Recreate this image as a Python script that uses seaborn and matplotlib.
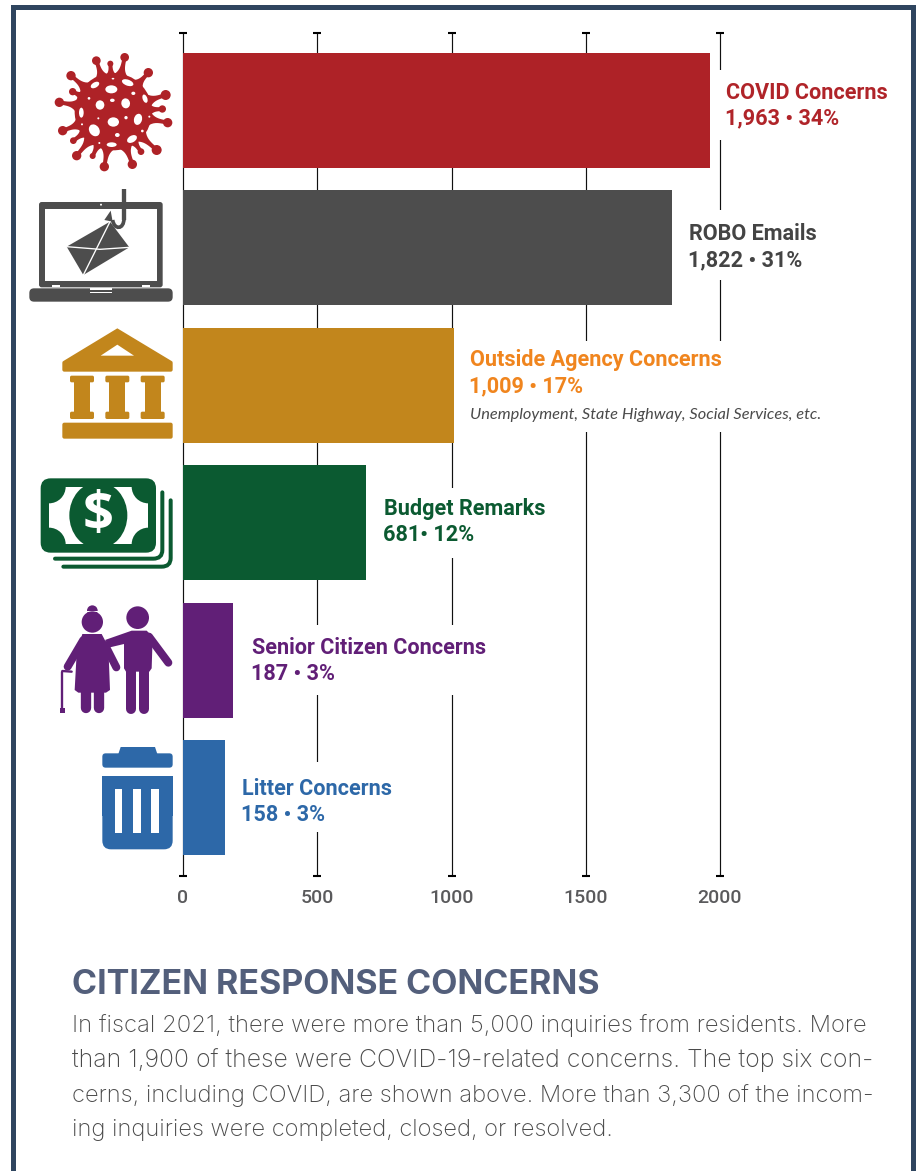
import matplotlib
matplotlib.use("Agg")
import matplotlib.pyplot as plt
import numpy as np
import pandas as pd
import seaborn as sns
from matplotlib.patches import Circle, Ellipse, FancyBboxPatch, Polygon, Rectangle, PathPatch
from matplotlib.path import Path
from matplotlib.transforms import Affine2D

# ---- data -------------------------------------------------------------
concerns = ["COVID Concerns", "ROBO Emails", "Outside Agency Concerns",
            "Budget Remarks", "Senior Citizen Concerns", "Litter Concerns"]
counts = [1963, 1822, 1009, 681, 187, 158]
value_labels = ["1,963 • 34%", "1,822 • 31%", "1,009 • 17%",
                "681• 12%", "187 • 3%", "158 • 3%"]
bar_colors = ["#ae2227", "#4d4d4d", "#c2861c", "#0b5a31", "#611f77", "#2d68a8"]
text_colors = ["#b02429", "#444444", "#f0851e", "#0b5a31", "#611f77", "#2d68a8"]
x_ticks = [0, 500, 1000, 1500, 2000]
outside_note = "Unemployment, State Highway, Social Services, etc."
heading = "CITIZEN RESPONSE CONCERNS"
body_lines = [
    "In fiscal 2021, there were more than 5,000 inquiries from residents. More",
    "than 1,900 of these were COVID-19-related concerns. The top six con-",
    "cerns, including COVID, are shown above. More than 3,300 of the incom-",
    "ing inquiries were completed, closed, or resolved.",
]

# ---- layout (pixels) ---------------------------------------------------
W, H = 917, 1171
label_dx = [16, 17, 16, 18, 19, 17]
name_dy = [-17, -14, -25, -14, -12, -9]
value_dy = [8, 12, 1, 12, 14, 17]
# white panels behind the labels that interrupt the gridlines: x0, x1, y0, y1
label_panels = [(712, 898, 70, 140), (672.3, 825, 210, 280), (456, 825, 341, 432),
                (367, 560, 488, 558), (235, 495, 625, 695), (227, 400, 762, 832)]
body_right = [867, 874, 874, 613]
body_base = [1032, 1067, 1102, 1136]

sns.set_theme(style="white")
plt.rcParams["font.family"] = ["Roboto", "DejaVu Sans"]

fig = plt.figure(figsize=(W / 100, H / 100), dpi=100, facecolor="white")
ax = fig.add_axes([183 / W, 1 - 876 / H, (720 - 183) / W, (876 - 33) / H])

df = pd.DataFrame({"concern": concerns, "count": counts})
sns.barplot(data=df, y="concern", x="count", hue="concern", palette=bar_colors,
            hue_order=concerns, order=concerns, width=0.836, saturation=1,
            dodge=False, legend=False, linewidth=0, ax=ax)

ax.set_xlim(0, 2000)
ax.set_ylim(5.571, -0.564)
ax.set_xlabel("")
ax.set_ylabel("")
ax.set_yticks([])
ax.set_xticks(x_ticks)
ax.set_xticklabels([str(t) for t in x_ticks], family="Roboto", fontsize=14,
                   color="#5a5a5c", weight="medium")
ax.tick_params(axis="x", length=0, pad=9.5)
ax.set_axisbelow(True)
ax.grid(axis="x", color="#111111", linewidth=0.85)
ax.grid(axis="y", visible=False)
for line in ax.get_xgridlines():
    line.set_clip_on(False)
for spine in ax.spines.values():
    spine.set_visible(False)
ax.patch.set_alpha(0)

# short caps on both ends of every gridline
for end in ax.get_ylim():
    ax.plot(x_ticks, [end] * len(x_ticks), ls="", marker="_", ms=5.8, mew=1.5,
            color="black", clip_on=False, zorder=2)

px = Affine2D().scale(1, -1).translate(0, H)
for x0, x1, y0, y1 in label_panels:
    ax.add_patch(Rectangle((x0, y0), x1 - x0, y1 - y0, transform=px, facecolor="white",
                           edgecolor="none", zorder=1.5, clip_on=False))

# ---- labels at the end of each bar --------------------------------------
for i, (name, val) in enumerate(zip(concerns, value_labels)):
    common = dict(xy=(counts[i], i), xycoords="data", textcoords="offset pixels",
                  color=text_colors[i], weight="bold", fontsize=15.6, va="center",
                  ha="left", zorder=3, annotation_clip=False)
    ax.annotate(name, xytext=(label_dx[i], -name_dy[i]), **common)
    ax.annotate(val, xytext=(label_dx[i] - 1, -value_dy[i]), **common)
ax.annotate(outside_note, xy=(counts[2], 2), xytext=(16, -30), textcoords="offset pixels",
            family="Lato", fontsize=11.8, style="italic", color="#4a4a4a",
            va="center", ha="left", zorder=3)

# ---- overlay in units of a third of a pixel, used for icons and frame ---
ov = fig.add_axes([0, 0, 1, 1], zorder=5)
ov.set_xlim(0, W * 3)
ov.set_ylim(H * 3, 0)
ov.axis("off")
LW = 0.72 / 3  # line width per overlay unit


def rrect(x0, y0, x1, y1, r, color, z=2):
    ov.add_patch(FancyBboxPatch((x0 + r, y0 + r), x1 - x0 - 2 * r, y1 - y0 - 2 * r,
                                boxstyle=f"round,pad={r},rounding_size={r}",
                                facecolor=color, edgecolor="none", zorder=z))


def stroke(xs, ys, width, color, z=2, cap="round"):
    ov.plot(xs, ys, color=color, lw=width * LW, solid_capstyle=cap,
            solid_joinstyle="round", zorder=z)


def poly(pts, color, z=2):
    ov.add_patch(Polygon(pts, closed=True, facecolor=color, edgecolor="none", zorder=z))


# frame, open at the bottom
frame = "#2f455f"
ov.add_patch(Rectangle((32, 15), 15, H * 3, facecolor=frame, edgecolor="none"))
ov.add_patch(Rectangle((32, 15), 2748 - 32, 14, facecolor=frame, edgecolor="none"))
ov.add_patch(Rectangle((2732, 15), 16, H * 3, facecolor=frame, edgecolor="none"))

# virus: round body, spikes flaring into it, each ending in a small ball
c = bar_colors[0]
cx, cy = 340, 335
ov.add_patch(Circle((cx, cy), 116, facecolor=c, edgecolor="none"))
bulbs = [(374, 172, 13), (289, 182, 13), (331, 191, 9), (213, 227, 14), (218, 275, 11),
         (445, 218, 14), (497, 285, 15), (487, 327, 11), (503, 368, 14), (178, 307, 14),
         (188, 392, 14), (220, 422, 10), (470, 450, 15), (423, 455, 10), (397, 493, 14),
         (313, 500, 14), (278, 468, 9), (230, 467, 14)]
for bx, by, br in bulbs:
    ov.add_patch(Circle((bx, by), br, facecolor=c, edgecolor="none"))
    tip = np.array([bx, by], float)
    d = tip - (cx, cy)
    d /= np.hypot(*d)
    n = np.array([-d[1], d[0]])
    base = np.array([cx, cy]) + d * 100
    s = np.linspace(0, 1, 14)
    half = 6 + 30 * (1 - s) ** 4
    mid = base[None, :] + (tip - base)[None, :] * s[:, None]
    poly(np.vstack([mid + n * half[:, None], (mid - n * half[:, None])[::-1]]), c)
holes = [(334, 268, 36, 24, 0), (383, 248, 36, 18, 20), (285, 255, 28, 16, -30), (339, 236, 8, 5, 0),
         (400, 280, 12, 10, 0), (435, 296, 14, 26, -20), (267, 295, 8, 8, 0), (337, 301, 14, 10, 0),
         (300, 315, 26, 28, 0), (377, 310, 26, 30, -10), (244, 338, 14, 30, 0), (295, 355, 6, 6, 0),
         (378, 353, 10, 10, 0), (340, 366, 34, 28, 0), (414, 358, 24, 34, 15), (448, 350, 6, 6, 0),
         (246, 373, 6, 6, 0), (283, 391, 30, 38, -35), (352, 405, 14, 12, 0), (427, 393, 8, 8, 0),
         (396, 417, 32, 20, -30), (335, 434, 30, 14, 0), (298, 429, 6, 6, 0)]
for hx, hy, hw, hh, rot in holes:
    ov.add_patch(Ellipse((hx, hy), hw, hh, angle=rot, facecolor="white", edgecolor="none", zorder=3))

# laptop with a hooked envelope
c = bar_colors[1]
rrect(117, 606, 488, 862, 8, c)
ov.add_patch(Rectangle((135, 626), 335, 217, facecolor="white", edgecolor="none", zorder=3))
ov.add_patch(Circle((303, 614), 3, facecolor="white", edgecolor="none", zorder=3))
rrect(88, 865, 518, 905, 14, c, z=3)
ov.add_patch(Rectangle((270, 865), 66, 5, facecolor="white", edgecolor="none", zorder=4))
ov.add_patch(Rectangle((270, 875), 66, 3, facecolor="white", edgecolor="none", zorder=4))
for x0 in (155, 426):
    ov.add_patch(Rectangle((x0, 855), 25, 7, facecolor="white", edgecolor="none", zorder=4))
poly([(200, 740), (330, 665), (388, 742), (250, 825)], c, z=4)
stroke([200, 300, 388], [740, 748, 742], 4, "white", z=5)
stroke([250, 335], [825, 655], 4, "white", z=5)
stroke([372, 372], [568, 660], 13, c, z=6, cap="butt")
ov.add_patch(PathPatch(Path([(372, 655), (372, 690), (342, 690), (338, 660)],
                            [Path.MOVETO, Path.CURVE4, Path.CURVE4, Path.CURVE4]),
                       facecolor="none", edgecolor=c, lw=11 * LW, zorder=6))
poly([(313, 660), (332, 632), (338, 665)], c, z=6)

# government building
c = bar_colors[2]
poly([(187, 1085), (352, 985), (518, 1085)], c)
rrect(187, 1083, 518, 1115, 6, c)
poly([(302, 1067), (352, 1034), (402, 1067)], "white", z=3)
for col in (246, 352, 458):
    rrect(col - 36, 1127, col + 36, 1147, 5, c)
    ov.add_patch(Rectangle((col - 24, 1145), 48, 92, facecolor=c, edgecolor="none"))
    rrect(col - 36, 1235, col + 36, 1257, 5, c)
rrect(187, 1268, 518, 1316, 6, c)

# stack of banknotes: scalloped white corners, oval medallion, two bills behind
c = bar_colors[3]
o = 1380
rrect(122, 55 + o, 468, 278 + o, 30, c)
note = Rectangle((147, 80 + o), 298, 173, facecolor="white", edgecolor="none", zorder=3)
ov.add_patch(note)
for qx in (147, 445):
    for qy in (80 + o, 253 + o):
        corner = Circle((qx, qy), 50, facecolor=c, edgecolor="none", zorder=4)
        ov.add_patch(corner)
        corner.set_clip_path(note)
medal = Ellipse((295, 166 + o), 174, 200, facecolor=c, edgecolor="none", zorder=4)
ov.add_patch(medal)
medal.set_clip_path(note)
ov.text(295, 168 + o, "$", color="white", family="Open Sans", weight="bold", fontsize=39,
        ha="center", va="center", zorder=5)
for dx, dy in ((0, 0), (25, 24)):
    ov.add_patch(PathPatch(
        Path([(165 + dx, 296 + dy), (460 + dx, 296 + dy), (487 + dx, 296 + dy),
              (487 + dx, 270 + dy), (487 + dx, 97 + dy)],
             [Path.MOVETO, Path.LINETO, Path.CURVE3, Path.CURVE3, Path.LINETO]).transformed(
            Affine2D().translate(0, o)),
        facecolor="none", edgecolor=c, lw=12 * LW, capstyle="round", zorder=2))

# elderly couple
c = bar_colors[4]
ov.add_patch(Circle((277, 452 + o), 16, facecolor=c, edgecolor="none"))
ov.add_patch(Rectangle((255, 452 + o), 44, 5, facecolor="white", edgecolor="none", zorder=3))
ov.add_patch(Circle((277, 486 + o), 32, facecolor=c, edgecolor="none", zorder=4))
poly([(247, 522 + o), (305, 522 + o), (325, 560 + o), (330, 690 + o), (318, 698 + o),
      (235, 698 + o), (224, 690 + o), (230, 580 + o)], c)
stroke([250, 203], [540 + o, 620 + o], 24, c)
stroke([315, 349], [555 + o, 622 + o], 24, c)
stroke([258, 258], [695 + o, 745 + o], 31, c)
stroke([297, 297], [695 + o, 745 + o], 31, c)
stroke([187, 187], [635 + o, 750 + o], 7, c)
stroke([187, 215], [633 + o, 635 + o], 7, c)
ov.add_patch(Rectangle((180, 745 + o), 15, 14, facecolor=c, edgecolor="none"))
ov.add_patch(Circle((413, 473 + o), 34, facecolor=c, edgecolor="none"))
poly([(315, 540 + o), (395, 512 + o), (440, 512 + o), (458, 530 + o), (455, 625 + o),
      (448, 635 + o), (378, 635 + o), (372, 625 + o), (372, 552 + o), (330, 562 + o)], c)
stroke([447, 505], [530 + o, 608 + o], 24, c)
stroke([393, 393], [630 + o, 746 + o], 30, c)
stroke([433, 433], [630 + o, 746 + o], 30, c)

# rubbish bin
c = bar_colors[5]
poly([(355, 882 + o), (362, 861 + o), (465, 861 + o), (472, 882 + o)], c)
rrect(307, 880 + o, 518, 923 + o, 10, c)
ov.add_patch(Rectangle((307, 948 + o), 211, 120, facecolor=c, edgecolor="none"))
rrect(307, 1030 + o, 518, 1168 + o, 26, c)
for x0 in (345, 400, 454):
    ov.add_patch(Rectangle((x0, 987 + o), 22, 133, facecolor="white", edgecolor="none", zorder=3))

# ---- caption block ------------------------------------------------------
renderer = fig.canvas.get_renderer()


def fitted_line(text, right, base, size, **style):
    """Place one line from the left margin, scaled so it ends at `right`."""
    t = fig.text(72 / W, 1 - base / H, text, ha="left", va="baseline", fontsize=size, **style)
    t.set_fontsize(size * (right - 72) / t.get_window_extent(renderer).width)
    return t


fitted_line(heading, 600, 994, 25, family="Inter", weight="bold", color="#535f7b")
for line, right, base in zip(body_lines, body_right, body_base):
    fitted_line(line, right, base, 16, family="Inter", weight="light", color="#4a4a4a")

fig.savefig("out.png", dpi=100, facecolor="white")
